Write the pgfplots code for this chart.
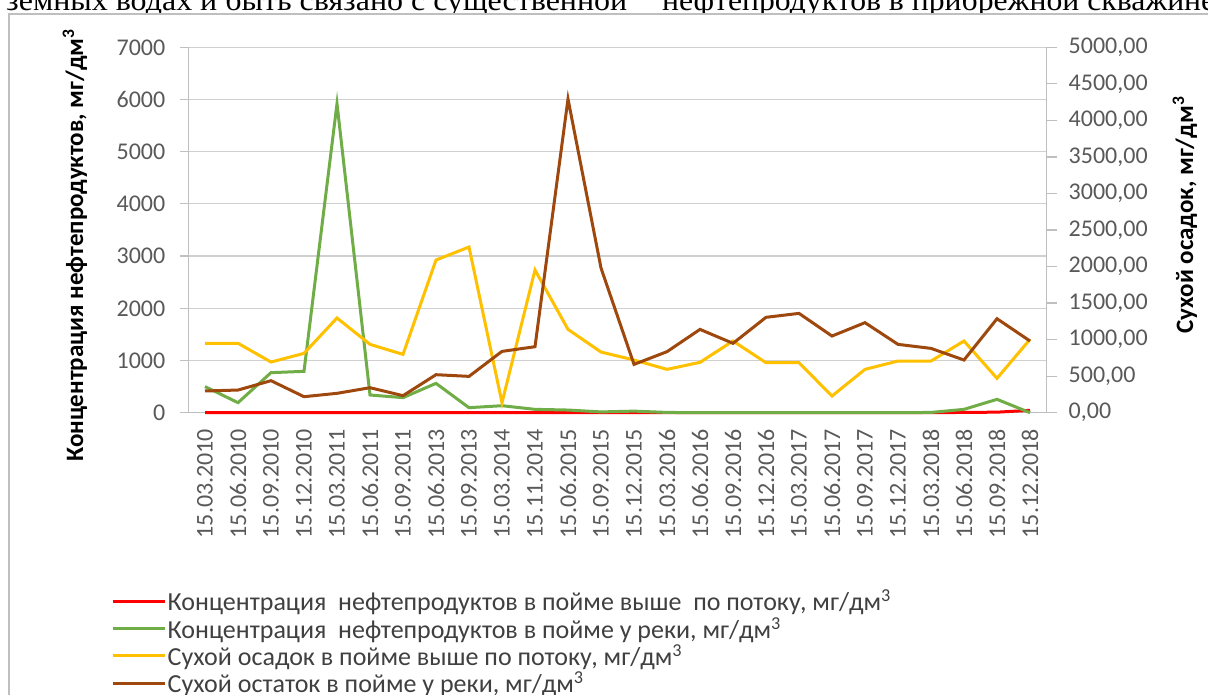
\documentclass[border=0pt]{standalone}
\usepackage{fontspec}
\setmainfont{Carlito}
\newfontfamily\tnr{Liberation Serif}
\usepackage{pgfplots}
\pgfplotsset{compat=1.18}
\definecolor{cred}{HTML}{FF0000}
\definecolor{cgreen}{HTML}{70AD47}
\definecolor{cyellow}{HTML}{FFC000}
\definecolor{cbrown}{HTML}{9E480E}
\definecolor{axgray}{HTML}{BFBFBF}
\definecolor{gridgray}{HTML}{D0D0D0}
\definecolor{ticktxt}{HTML}{595959}
\definecolor{legtxt}{HTML}{404040}
\definecolor{framegray}{HTML}{BFBFBF}
\begin{document}
\begin{tikzpicture}[x=1pt,y=1pt]
\useasboundingbox (0,0) rectangle (1208,695);
\begin{scope}
\clip (0,681) rectangle (1208,695);
\node[anchor=base west, inner sep=0pt] at (6,684) {\resizebox{621pt}{\height}{\tnr\fontsize{30}{34}\selectfont земных водах и быть связано с существенной}};
\node[anchor=base west, inner sep=0pt] at (662,684) {\resizebox{553pt}{\height}{\tnr\fontsize{30}{34}\selectfont нефтепродуктов в прибрежной скважине}};
\end{scope}
\draw[framegray, line width=1.2pt] (9,-10) -- (9,681) -- (1220,681);

\pgfplotsset{
  common/.style={
    at={(188.5pt,282.3pt)}, anchor=south west, scale only axis,
    width=858pt, height=365.4pt,
    xmin=-0.5, xmax=25.5, ymin=0, clip=false,
    tick align=outside, major tick length=8pt,
    tick label style={font=\fontsize{24}{28}\selectfont, text=ticktxt},
    /pgf/number format/assume math mode=true,
    axis line style={draw=axgray, line width=1.2pt},
    ytick style={draw=axgray, line width=1.2pt},
    xtick style={draw=none},
    ylabel style={font=\bfseries\fontsize{25}{30}\selectfont, text=black, anchor=center},
  }
}

\begin{axis}[common,
  ymax=7000, ytick={0,1000,...,7000},
  axis y line*=left, axis x line*=bottom,
  ymajorgrids, grid style={draw=gridgray, line width=1.2pt},
  /pgf/number format/1000 sep={},
  yticklabel style={inner sep=0pt, xshift=-15pt},
  xtick={0,...,25},
  xticklabels={15.03.2010,15.06.2010,15.09.2010,15.12.2010,15.03.2011,15.06.2011,15.09.2011,15.06.2013,15.09.2013,15.03.2014,15.11.2014,15.06.2015,15.09.2015,15.12.2015,15.03.2016,15.06.2016,15.09.2016,15.12.2016,15.03.2017,15.06.2017,15.09.2017,15.12.2017,15.03.2018,15.06.2018,15.09.2018,15.12.2018},
  xticklabel style={rotate=90, anchor=east, inner xsep=8pt, inner ysep=0pt},
  ylabel={Концентрация нефтепродуктов, мг/дм\textsuperscript{3}},
  ylabel style={at={(axis description cs:-0.1323,0.458)}},
]
\addplot[cred, line width=3pt] coordinates {
(0,0) (1,0) (2,0) (3,0) (4,0) (5,0) (6,0) (7,0) (8,0) (9,0) (10,0) (11,0) (12,0)
(13,0) (14,0) (15,0) (16,0) (17,0) (18,0) (19,0) (20,0) (21,0) (22,0) (23,5) (24,10) (25,45)};
\addplot[cgreen, line width=3pt] coordinates {
(0,500) (1,192) (2,767) (3,792) (4,5920) (5,339) (6,288) (7,562) (8,96) (9,134) (10,64) (11,51) (12,15)
(13,30) (14,5) (15,0) (16,0) (17,0) (18,0) (19,0) (20,0) (21,0) (22,5) (23,64) (24,256) (25,0)};
\end{axis}

\begin{axis}[common,
  ymax=5000, ytick={0,500,...,5000},
  axis y line*=right, axis x line=none,
  xtick=\empty,
  major tick length=10pt,
  yticklabel style={inner sep=0pt, xshift=12pt, anchor=west,
    /pgf/number format/.cd, fixed, fixed zerofill, precision=2, use comma, 1000 sep={}},
  ylabel={Сухой осадок, мг/дм\textsuperscript{3}},
  ylabel style={at={(axis description cs:1.1614,0.541)}},
  legend style={at={(axis description cs:-0.0938,-0.475)}, anchor=north west,
    draw=none, fill=none, font=\fontsize{26}{30}\selectfont, text=legtxt,
    row sep=2pt, nodes={inner sep=1.5pt}},
  legend cell align=left,
  legend image code/.code={\draw[#1] (0pt,0pt) -- (52pt,0pt);},
]
\addlegendimage{cred, line width=3pt}
\addlegendentry{Концентрация\ \ нефтепродуктов в пойме выше\ \ по потоку, мг/дм\textsuperscript{3}}
\addlegendimage{cgreen, line width=3pt}
\addlegendentry{Концентрация\ \ нефтепродуктов в пойме у реки, мг/дм\textsuperscript{3}}
\addplot[cyellow, line width=3pt] coordinates {
(0,950) (1,950) (2,693) (3,812) (4,1296) (5,935) (6,798) (7,2089) (8,2267) (9,137) (10,1953) (11,1140) (12,830)
(13,721) (14,593) (15,689) (16,981) (17,684) (18,684) (19,228) (20,593) (21,707) (22,707) (23,981) (24,470) (25,1004)};
\addlegendentry{Сухой осадок в пойме выше по потоку, мг/дм\textsuperscript{3}}
\addplot[cbrown, line width=3pt] coordinates {
(0,297) (1,310) (2,438) (3,219) (4,265) (5,342) (6,233) (7,520) (8,497) (9,839) (10,903) (11,4293) (12,1980)
(13,661) (14,835) (15,1140) (16,949) (17,1305) (18,1359) (19,1049) (20,1232) (21,935) (22,880) (23,721) (24,1286) (25,981)};
\addlegendentry{Сухой остаток в пойме у реки, мг/дм\textsuperscript{3}}
\end{axis}
\end{tikzpicture}
\end{document}
